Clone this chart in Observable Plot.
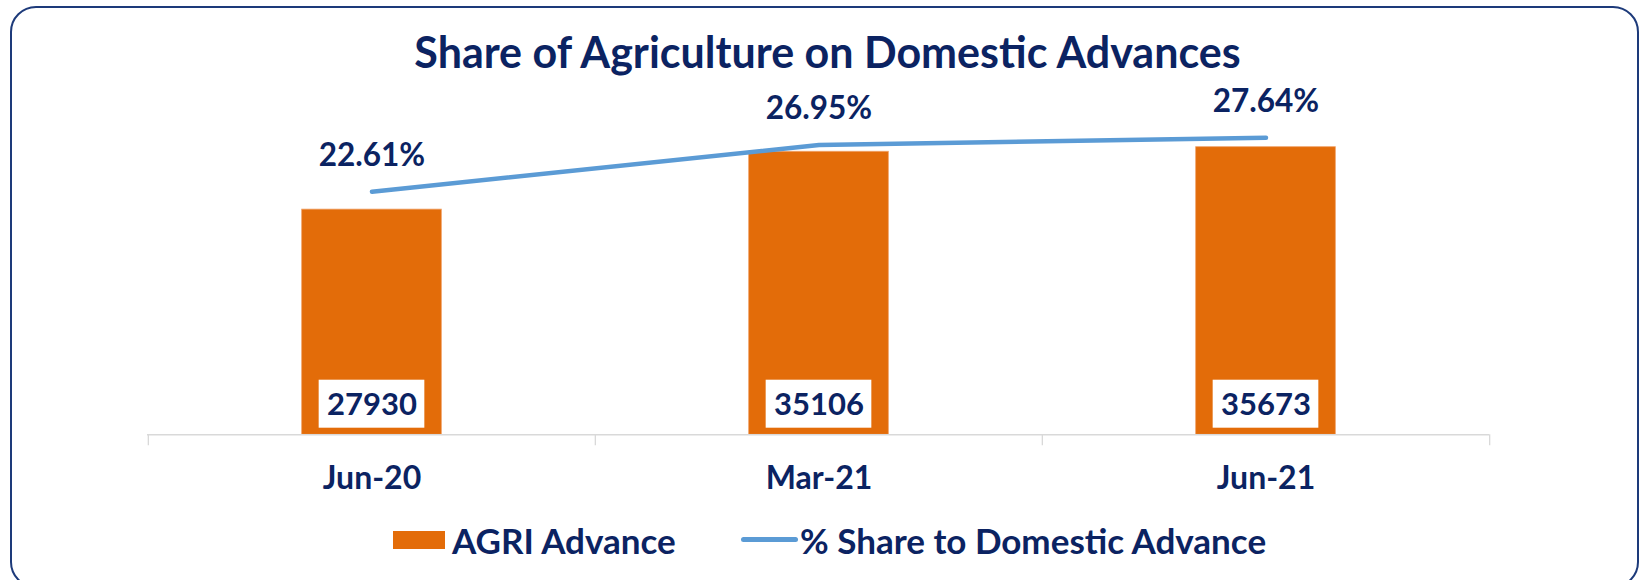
<!DOCTYPE html>
<html>
<head>
<meta charset="utf-8">
<script src="https://cdn.jsdelivr.net/npm/d3@7"></script>
<script src="https://cdn.jsdelivr.net/npm/@observablehq/plot@0.6"></script>
<style>
  html, body { margin: 0; padding: 0; background: #fff; }
  #wrap { position: relative; width: 1641px; height: 580px; overflow: hidden; font-family: Lato, "DejaVu Sans", sans-serif; font-weight: 700; color: #0b2362; }
  #frame { position: absolute; left: 10px; top: 6px; width: 1629px; height: 582px; box-sizing: border-box; border: 2.2px solid #1d3a7a; border-radius: 26px; }
  #title { position: absolute; left: 7px; top: 0; width: 1641px; height: 80px; text-align: center; font-size: 43px; line-height: 104px; white-space: nowrap; }
  #chart { position: absolute; left: 0; top: 80px; }
  #legend { position: absolute; left: 0; top: 500px; width: 1641px; height: 80px; }
  .sw-bar { position: absolute; left: 393px; top: 31px; width: 52px; height: 18px; background: #e36c09; }
  .sw-line { position: absolute; left: 741px; top: 37px; width: 57px; height: 5px; border-radius: 3px; background: #5b9bd5; }
  .lg { position: absolute; top: 40px; transform: translateY(-50%); font-size: 35px; white-space: nowrap; line-height: 1; }
</style>
</head>
<body>
<div id="wrap">
  <div id="frame"></div>
  <div id="title">Share of Agriculture on Domestic Advances</div>
  <div id="chart"></div>
  <div id="legend">
    <div class="sw-bar"></div>
    <div class="lg" id="lg1" style="left:452px">AGRI Advance</div>
    <div class="sw-line"></div>
    <div class="lg" id="lg2" style="left:800px">% Share to Domestic Advance</div>
  </div>
</div>
<script>
// ---- data ----
const categories = ["Jun-20", "Mar-21", "Jun-21"];
const agriAdvance = [27930, 35106, 35673];
const shareDomestic = [22.61, 26.95, 27.64];

// primary axis 0–40000, secondary axis 0–30 %
const primaryMax = 40000;
const secondaryMax = 30;

const data = categories.map((c, i) => ({
  cat: c,
  agri: agriAdvance[i],
  pct: shareDomestic[i],
  pctScaled: shareDomestic[i] * primaryMax / secondaryMax
}));

const W = 1641, H = 420;
const mL = 147, mR = 152, mT = 31.8, mB = 65.7;
const bw = (W - mL - mR) / categories.length;
const barW = 140, boxW = 106;
const navy = "#0b2362";
const font = "Lato, 'DejaVu Sans', sans-serif";

const chart = Plot.plot({
  width: W,
  height: H,
  marginLeft: mL,
  marginRight: mR,
  marginTop: mT,
  marginBottom: mB,
  style: { fontFamily: font, background: "transparent", overflow: "visible" },
  x: { domain: categories, padding: 0, axis: null },
  y: { domain: [0, primaryMax], axis: null },
  marks: [
    Plot.barY(data, {
      x: "cat", y: "agri", fill: "#e36c09",
      stroke: "#f0a36a", strokeWidth: 0.8,
      insetLeft: (bw - barW) / 2, insetRight: (bw - barW) / 2
    }),
    Plot.ruleY([0], { stroke: "#d9d9d9", strokeWidth: 1.6 }),
    Plot.ruleX(categories, { x: d => d, dx: -bw / 2, y1: 0, y2: 0, insetBottom: -11, stroke: "#d9d9d9", strokeWidth: 1.3 }),
    Plot.ruleX([categories[categories.length - 1]], { x: d => d, dx: bw / 2, y1: 0, y2: 0, insetBottom: -11, stroke: "#d9d9d9", strokeWidth: 1.3 }),
    // white label boxes at the bar bottoms
    Plot.barY(data, {
      x: "cat", y1: 0, y2: 0, fill: "white",
      insetLeft: (bw - boxW) / 2, insetRight: (bw - boxW) / 2,
      insetTop: -54.6, insetBottom: 6.6
    }),
    Plot.text(data, {
      x: "cat", y: 0, text: d => String(d.agri), dy: -29.8,
      fill: navy, fontSize: 31, fontWeight: 700, lineAnchor: "middle"
    }),
    Plot.line(data, {
      x: "cat", y: "pctScaled", stroke: "#5b9bd5", strokeWidth: 4.5,
      strokeLinecap: "round", strokeLinejoin: "round"
    }),
    Plot.text(data, {
      x: "cat", y: "pctScaled", text: d => d.pct.toFixed(2) + "%", dy: -36,
      fill: navy, fontSize: 31.5, fontWeight: 700, lineAnchor: "middle"
    }),
    Plot.text(categories, {
      x: d => d, y: 0, text: d => d, dy: 44,
      fill: navy, fontSize: 32, fontWeight: 700, lineAnchor: "middle"
    })
  ]
});
document.getElementById("chart").appendChild(chart);
</script>
</body>
</html>
